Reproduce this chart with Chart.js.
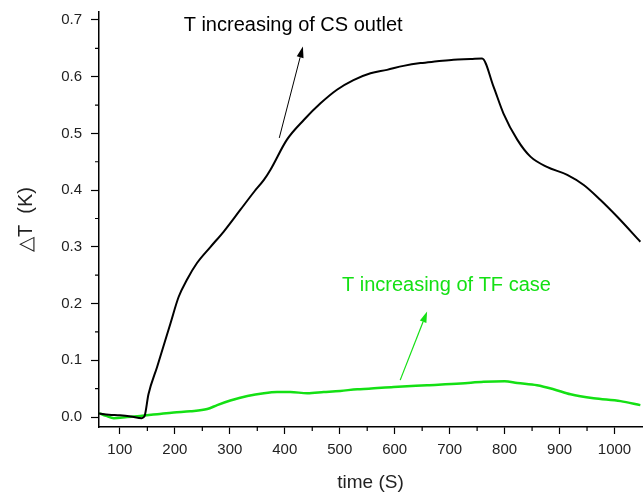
<!DOCTYPE html>
<html>
<head>
<meta charset="utf-8">
<script src="https://cdn.jsdelivr.net/npm/chart.js@4"></script>
<style>
  html, body { margin: 0; padding: 0; background: #fff; }
  #wrap { width: 643px; height: 492px; }
</style>
</head>
<body>
<div id="wrap"><canvas id="chart"></canvas></div>
<script>
// time (s) and temperature rise (K)
var csTime = [62, 80, 100, 120, 140, 145, 152, 168, 192, 207, 222, 240, 265, 289, 319, 345, 362, 374, 404, 435, 465, 495, 525, 556, 586, 616, 647, 677, 707, 738, 759, 780, 798, 823, 847, 877, 914, 944, 974, 1005, 1047];
var csRise = [0.006, 0.004, 0.003, 0.001, -0.002, 0.002, 0.040, 0.089, 0.165, 0.212, 0.242, 0.271, 0.300, 0.327, 0.365, 0.398, 0.418, 0.436, 0.489, 0.524, 0.553, 0.577, 0.594, 0.606, 0.612, 0.619, 0.624, 0.627, 0.630, 0.631, 0.632, 0.582, 0.535, 0.489, 0.459, 0.441, 0.427, 0.409, 0.383, 0.353, 0.309];

var tfTime = [62, 75, 89, 113, 137, 168, 198, 228, 259, 277, 301, 332, 362, 386, 410, 441, 471, 501, 532, 553, 598, 659, 720, 762, 800, 823, 859, 889, 920, 962, 1011, 1047];
var tfRise = [0.007, 0.002, -0.002, 0.000, 0.002, 0.005, 0.008, 0.010, 0.014, 0.021, 0.029, 0.037, 0.042, 0.044, 0.044, 0.042, 0.044, 0.046, 0.049, 0.050, 0.053, 0.056, 0.059, 0.062, 0.063, 0.060, 0.056, 0.049, 0.040, 0.033, 0.028, 0.021];

var xTicks = [100, 200, 300, 400, 500, 600, 700, 800, 900, 1000];
var xMinor = [150, 250, 350, 450, 550, 650, 750, 850, 950];
var yTicks = [0, 0.1, 0.2, 0.3, 0.4, 0.5, 0.6, 0.7];
var yMinor = [0.05, 0.15, 0.25, 0.35, 0.45, 0.55, 0.65];

var green = "#14e014";
var fontFamily = "'Liberation Sans', Arial, sans-serif";

// annotation text + arrow (tail -> tip) in data units
var notes = [
  { text: "T increasing of CS outlet", color: "#000", at: [216, 0.691], tail: [390, 0.492], tip: [433, 0.653], width: 1 },
  { text: "T increasing of TF case", color: green, at: [504, 0.232], tail: [610, 0.065], tip: [659, 0.186], width: 1.2 },
];

// short minor ticks on both axes
var minorTicksPlugin = {
  id: "minorTicks",
  afterDraw: function (chart) {
    var ctx = chart.ctx;
    var xs = chart.scales.x;
    var ys = chart.scales.y;
    ctx.save();
    ctx.strokeStyle = "#000";
    ctx.lineWidth = 1.2;
    ctx.beginPath();
    xMinor.forEach(function (v) {
      var px = xs.getPixelForValue(v);
      ctx.moveTo(px, xs.top);
      ctx.lineTo(px, xs.top + 4);
    });
    yMinor.forEach(function (v) {
      var py = ys.getPixelForValue(v);
      ctx.moveTo(ys.right, py);
      ctx.lineTo(ys.right - 4, py);
    });
    ctx.stroke();
    ctx.restore();
  },
};

var notesPlugin = {
  id: "notes",
  afterDraw: function (chart) {
    var ctx = chart.ctx;
    var xs = chart.scales.x;
    var ys = chart.scales.y;
    ctx.save();
    notes.forEach(function (n) {
      ctx.fillStyle = n.color;
      ctx.font = "20px " + fontFamily;
      ctx.textBaseline = "middle";
      ctx.textAlign = "left";
      ctx.fillText(n.text, xs.getPixelForValue(n.at[0]), ys.getPixelForValue(n.at[1]));

      var x0 = xs.getPixelForValue(n.tail[0]);
      var y0 = ys.getPixelForValue(n.tail[1]);
      var x1 = xs.getPixelForValue(n.tip[0]);
      var y1 = ys.getPixelForValue(n.tip[1]);
      var ang = Math.atan2(y1 - y0, x1 - x0);
      var headLen = 11;
      var headW = 3.5;
      var bx = x1 - headLen * Math.cos(ang);
      var by = y1 - headLen * Math.sin(ang);
      ctx.strokeStyle = n.color;
      ctx.lineWidth = n.width;
      ctx.beginPath();
      ctx.moveTo(x0, y0);
      ctx.lineTo(bx, by);
      ctx.stroke();
      ctx.beginPath();
      ctx.moveTo(x1, y1);
      ctx.lineTo(bx + headW * Math.sin(ang), by - headW * Math.cos(ang));
      ctx.lineTo(bx - headW * Math.sin(ang), by + headW * Math.cos(ang));
      ctx.closePath();
      ctx.fill();
    });
    ctx.restore();
  },
};

function toPoints(xs, ys) {
  return xs.map(function (x, i) { return { x: x, y: ys[i] }; });
}

var tickFont = { family: fontFamily, size: 15 };

new Chart(document.getElementById("chart"), {
  type: "line",
  data: {
    datasets: [
      {
        label: "CS outlet",
        data: toPoints(csTime, csRise),
        borderColor: "#000",
        borderWidth: 2,
        pointRadius: 0,
        cubicInterpolationMode: "monotone",
      },
      {
        label: "TF case",
        data: toPoints(tfTime, tfRise),
        borderColor: green,
        borderWidth: 2.5,
        pointRadius: 0,
        cubicInterpolationMode: "monotone",
      },
    ],
  },
  options: {
    responsive: true,
    maintainAspectRatio: false,
    animation: false,
    layout: { padding: { top: 12, right: 1, left: 0, bottom: 0 } },
    plugins: {
      legend: { display: false },
      tooltip: { enabled: false },
    },
    scales: {
      x: {
        type: "linear",
        min: 62,
        max: 1050,
        afterBuildTicks: function (axis) {
          axis.ticks = xTicks.map(function (v) { return { value: v }; });
        },
        afterFit: function (axis) {
          axis.height = 65;
          axis.paddingLeft = 0;
          axis.paddingRight = 0;
        },
        ticks: {
          color: "#222",
          font: tickFont,
          padding: 7,
          maxRotation: 0,
          autoSkip: false,
          callback: function (v) { return String(v); },
        },
        grid: { drawOnChartArea: false, tickLength: 7, color: "#000", tickWidth: 1.2 },
        border: { color: "#000", width: 1.5 },
        title: {
          display: true,
          text: "time (S)",
          color: "#222",
          font: { family: fontFamily, size: 19, lineHeight: 1 },
          padding: { top: 0, bottom: 0 },
        },
      },
      y: {
        type: "linear",
        min: -0.0176,
        max: 0.714,
        afterBuildTicks: function (axis) {
          axis.ticks = yTicks.map(function (v) { return { value: v }; });
        },
        afterFit: function (axis) {
          axis.width = 99;
          axis.paddingTop = 0;
          axis.paddingBottom = 0;
        },
        ticks: {
          color: "#222",
          font: tickFont,
          padding: 9,
          autoSkip: false,
          callback: function (v) { return v.toFixed(1); },
        },
        grid: { drawOnChartArea: false, tickLength: 8, color: "#000", tickWidth: 1.2 },
        border: { color: "#000", width: 1.5 },
        title: {
          display: true,
          text: "\u25B3T  (K)",
          color: "#222",
          font: { family: fontFamily, size: 20 },
          padding: { top: 14, bottom: 0 },
        },
      },
    },
  },
  plugins: [minorTicksPlugin, notesPlugin],
});
</script>
</body>
</html>
